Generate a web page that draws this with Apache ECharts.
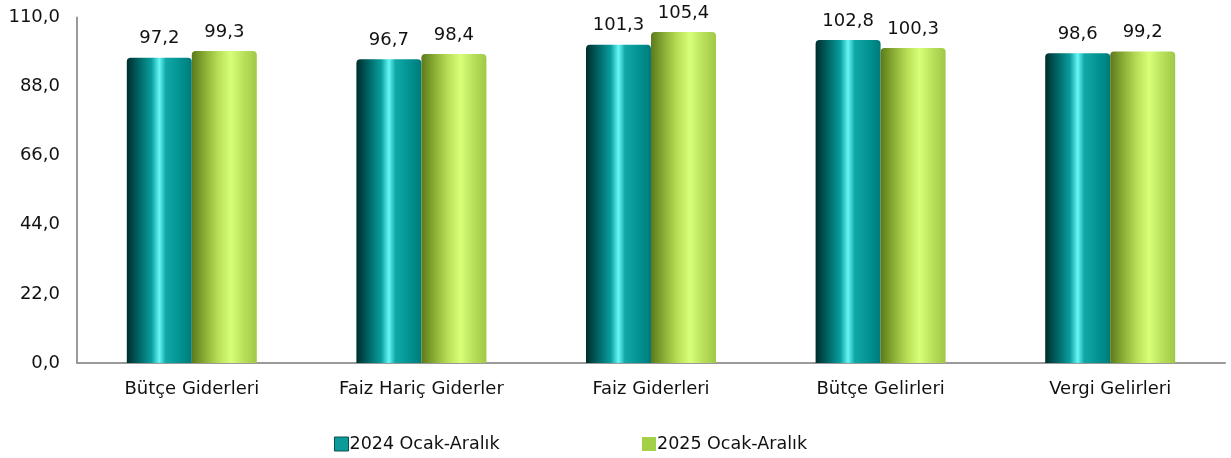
<!DOCTYPE html>
<html><head><meta charset="utf-8">
<script src="https://cdn.jsdelivr.net/npm/echarts@6/dist/echarts.min.js"></script>
<style>html,body{margin:0;padding:0;background:#fff}#c{width:1231px;height:458px}</style>
</head><body><div id="c"></div>
<script>
const categories = ["Bütçe Giderleri", "Faiz Hariç Giderler", "Faiz Giderleri", "Bütçe Gelirleri", "Vergi Gelirleri"];
const series2024 = [97.2, 96.7, 101.3, 102.8, 98.6];
const series2025 = [99.3, 98.4, 105.4, 100.3, 99.2];
const seriesNames = ["2024 Ocak-Aralık", "2025 Ocak-Aralık"];
const yMin = 0, yMax = 110, yInterval = 22;

const font = "'DejaVu Sans',sans-serif";
const fmt = v => v.toFixed(1).replace('.', ',');

const tealGrad = new echarts.graphic.LinearGradient(0, 0, 1, 0, [
  {offset: 0, color: '#002c2c'},
  {offset: 0.18, color: '#006262'},
  {offset: 0.38, color: '#0a9d9d'},
  {offset: 0.5, color: '#66f6f6'},
  {offset: 0.6, color: '#12a8a8'},
  {offset: 0.85, color: '#008e8e'},
  {offset: 1, color: '#007a7a'}
]);
const greenGrad = new echarts.graphic.LinearGradient(0, 0, 1, 0, [
  {offset: 0, color: '#5c7a1c'},
  {offset: 0.18, color: '#86a832'},
  {offset: 0.4, color: '#b6dd55'},
  {offset: 0.6, color: '#d9ff7a'},
  {offset: 0.8, color: '#b8e05a'},
  {offset: 1, color: '#a0c848'}
]);

const labelOpt = {
  show: true, position: 'top', distance: 10,
  formatter: p => fmt(p.value),
  color: '#111', fontSize: 18, fontFamily: font
};
const legendText = {fontSize: 17.5, fontFamily: font, color: '#111', padding: [0,0,0,-4]};

const chart = echarts.init(document.getElementById('c'));
chart.setOption({
  animation: false,
  grid: {left: 77, right: 6, top: 17.5, bottom: 95, containLabel: false},
  legend: [
    {data: [{name: seriesNames[0], icon: 'rect', itemStyle: {color: '#0f9a9a', borderColor: '#0a5050', borderWidth: 1}}],
     left: 329, top: 430, itemWidth: 14, itemHeight: 14, itemGap: 0, textStyle: legendText},
    {data: [{name: seriesNames[1], icon: 'rect', itemStyle: {color: '#a4cf48'}}],
     left: 637, top: 430, itemWidth: 14, itemHeight: 14, itemGap: 0, textStyle: legendText}
  ],
  xAxis: {
    type: 'category', data: categories,
    axisLine: {show: true, lineStyle: {color: '#9a9a9a', width: 2}},
    axisTick: {show: false},
    axisLabel: {color: '#111', fontSize: 18, fontFamily: font, margin: 17}
  },
  yAxis: {
    type: 'value', min: yMin, max: yMax, interval: yInterval,
    axisLine: {show: true, lineStyle: {color: '#9a9a9a', width: 2}},
    axisTick: {show: false},
    splitLine: {show: false},
    axisLabel: {color: '#111', fontSize: 18, fontFamily: font, margin: 17, formatter: v => fmt(v)}
  },
  series: [
    {name: seriesNames[0], type: 'bar', data: series2024, barWidth: 65, barGap: '0%',
     itemStyle: {color: tealGrad, borderRadius: [4,4,0,0]}, label: labelOpt},
    {name: seriesNames[1], type: 'bar', data: series2025, barWidth: 65, barGap: '0%',
     itemStyle: {color: greenGrad, borderRadius: [4,4,0,0]}, label: labelOpt}
  ]
});
</script></body></html>
